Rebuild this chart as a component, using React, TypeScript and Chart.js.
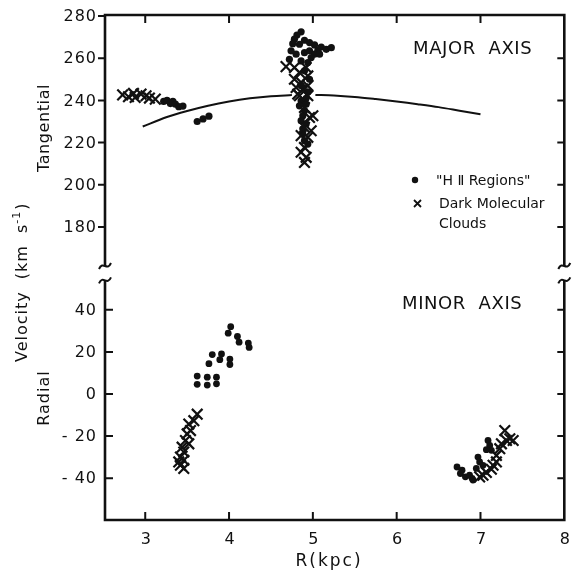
import { useEffect, useRef } from "react";
import { Chart, registerables } from "chart.js";

Chart.register(...registerables);

// ---------- axis ticks ----------
const xTicks = [3, 4, 5, 6, 7, 8];
const tangTicks = [180, 200, 220, 240, 260, 280];
const radTicks = [-40, -20, 0, 20, 40];

// ---------- Major axis (tangential velocity) ----------
const hiiMajorR = [
  3.22, 3.26, 3.3, 3.33, 3.36, 3.4, 3.45,
  3.62, 3.69, 3.76,
  4.86, 4.81, 4.78, 4.76, 4.84, 4.9, 4.96, 5.02, 5.06, 5.1, 5.16, 5.22, 4.74, 4.8, 4.72, 4.9, 4.96, 5.02, 4.98, 5.08, 4.86, 4.94,
  4.9, 4.96, 4.86, 4.94, 4.86, 4.9, 4.84, 4.92, 4.88, 4.86, 4.92, 4.88, 4.9, 4.94, 4.92, 4.88,
];
const hiiMajorT = [
  239.5, 240.0, 238.5, 239.5, 238.2, 237.0, 237.3,
  230.0, 231.2, 232.5,
  272.5, 271.0, 269.0, 266.9, 266.6, 268.5, 267.4, 266.3, 263.8, 265.3, 264.2, 265.0, 263.5, 261.9, 259.5, 262.6, 263.5, 261.9, 260.3, 261.9, 258.7, 257.9,
  254.0, 250.0, 247.0, 244.0, 239.8, 235.1, 237.4, 238.2, 232.7, 230.4, 228.8, 224.1, 220.9, 219.3, 241.0, 226.5,
];
const darkMajorR = [
  2.73, 2.8, 2.86, 2.88, 2.95, 3.01, 3.05, 3.12,
  4.68, 4.78, 4.84, 4.92, 4.78, 4.86, 4.94, 4.8, 4.88, 4.94, 4.84, 4.82, 4.94, 4.9, 4.96, 5.0, 4.9, 4.98, 4.86, 4.94, 4.9, 4.86, 4.92, 4.9,
];
const darkMajorT = [
  242.6, 241.7, 243.3, 241.4, 243.0, 242.2, 241.1, 240.6,
  256.0, 255.6, 253.2, 255.6, 250.0, 248.5, 251.6, 246.1, 245.3, 246.9, 242.2, 243.0, 242.2, 236.6, 231.9, 232.7, 227.2, 225.6, 223.3, 222.5, 217.7, 215.4, 213.0, 210.6,
];

// model rotation curve (null = gap)
const curveR = [2.97, 3.25, 3.5, 3.75, 4.0, 4.25, 4.5, 4.75, null, 5.03, 5.25, 5.5, 5.75, 6.0, 6.25, 6.5, 6.75, 7.0];
const curveT = [227.6, 232.0, 235.0, 237.5, 239.5, 241.0, 242.0, 242.5, null, 242.6, 242.3, 241.6, 240.6, 239.5, 238.2, 236.8, 235.1, 233.4];

// ---------- Minor axis (radial velocity) ----------
const hiiMinorR = [
  4.02, 3.99, 4.1, 4.12, 4.23, 4.24, 3.8, 3.76, 3.91, 3.89, 4.01, 4.01, 3.62, 3.62, 3.74, 3.74, 3.85, 3.85,
  6.72, 6.78, 6.76, 6.82, 6.87, 6.9, 6.91, 6.95, 6.97, 6.99, 7.03, 7.09, 7.11, 7.13, 7.07,
];
const hiiMinorV = [
  32.0, 28.9, 27.3, 24.6, 24.2, 22.1, 18.7, 14.4, 19.0, 16.3, 16.6, 14.0, 8.5, 4.6, 8.0, 4.2, 8.0, 4.8,
  -34.7, -36.2, -37.8, -39.4, -38.6, -40.1, -40.9, -35.4, -30.0, -32.3, -33.9, -22.1, -24.5, -26.8, -26.5,
];
const darkMinorR = [
  3.62, 3.58, 3.52, 3.54, 3.5, 3.48, 3.52, 3.44, 3.46, 3.42, 3.46, 3.42, 3.46, 3.4,
  6.99, 7.03, 7.07, 7.13, 7.15, 7.19, 7.19, 7.23, 7.25, 7.29, 7.35, 7.39, 7.31,
];
const darkMinorV = [
  -9.6, -12.7, -14.3, -17.4, -19.0, -22.1, -23.7, -25.3, -27.6, -30.0, -31.5, -33.9, -35.4, -32.3,
  -39.4, -38.6, -37.3, -35.8, -33.9, -32.3, -29.2, -26.0, -23.7, -17.4, -21.3, -22.1, -22.1,
];

const FONT = '"DejaVu Sans", sans-serif';
const INK = "#111";

const pts = (xs: (number | null)[], ys: (number | null)[]) =>
  xs.map((x, i) => ({ x: x as number, y: ys[i] as number }));

function tilde(ctx: CanvasRenderingContext2D, cx: number, cy: number) {
  ctx.beginPath();
  ctx.moveTo(cx - 6, cy + 3);
  ctx.bezierCurveTo(cx - 2, cy - 6, cx + 2, cy + 6, cx + 6, cy - 3);
  ctx.stroke();
}

const framePlugin = {
  id: "frame",
  beforeDraw(chart: any) {
    const ctx = chart.ctx;
    ctx.save();
    ctx.fillStyle = "#fff";
    ctx.fillRect(0, 0, chart.width, chart.height);
    ctx.restore();
  },
  afterDraw(chart: any) {
    const ctx: CanvasRenderingContext2D = chart.ctx;
    const a = chart.chartArea;
    const sx = chart.scales.x;
    const yT = chart.scales.yT;
    const yR = chart.scales.yR;
    const brkTop = yT.getPixelForValue(161.5);
    const brkBot = yR.getPixelForValue(54);

    ctx.save();
    ctx.strokeStyle = INK;
    ctx.fillStyle = INK;
    ctx.lineWidth = 2.6;
    ctx.lineCap = "butt";

    // frame
    ctx.beginPath();
    ctx.moveTo(a.left, brkTop);
    ctx.lineTo(a.left, a.top);
    ctx.lineTo(a.right, a.top);
    ctx.lineTo(a.right, brkTop);
    ctx.moveTo(a.left, brkBot);
    ctx.lineTo(a.left, a.bottom);
    ctx.lineTo(a.right, a.bottom);
    ctx.lineTo(a.right, brkBot);
    ctx.stroke();

    ctx.lineWidth = 2;
    tilde(ctx, a.left, brkTop);
    tilde(ctx, a.left, brkBot);
    tilde(ctx, a.right, brkTop);
    tilde(ctx, a.right, brkBot);

    // ticks
    ctx.lineWidth = 2;
    ctx.beginPath();
    xTicks.forEach((v) => {
      if (v >= 8) return;
      const px = sx.getPixelForValue(v);
      ctx.moveTo(px, a.top);
      ctx.lineTo(px, a.top + 8);
      ctx.moveTo(px, a.bottom);
      ctx.lineTo(px, a.bottom - 8);
    });
    tangTicks.forEach((v) => {
      const py = yT.getPixelForValue(v);
      ctx.moveTo(a.left - 7, py);
      ctx.lineTo(a.left, py);
      if (v < 280) {
        ctx.moveTo(a.right, py);
        ctx.lineTo(a.right - 7, py);
      }
    });
    radTicks.forEach((v) => {
      const py = yR.getPixelForValue(v);
      ctx.moveTo(a.left, py);
      ctx.lineTo(a.left + 8, py);
      ctx.moveTo(a.right, py);
      ctx.lineTo(a.right - 7, py);
    });
    ctx.stroke();

    // tick labels
    (ctx as any).letterSpacing = "1px";
    ctx.font = `16px ${FONT}`;
    ctx.textBaseline = "middle";
    ctx.textAlign = "right";
    tangTicks.forEach((v) => {
      ctx.fillText(String(v), a.left - 8, yT.getPixelForValue(v) + 1);
    });
    radTicks.forEach((v) => {
      const s = v < 0 ? "- " + Math.abs(v) : String(v);
      ctx.fillText(s, a.left - 8, yR.getPixelForValue(v) + 1);
    });
    ctx.textAlign = "center";
    xTicks.forEach((v) => {
      ctx.fillText(String(v), sx.getPixelForValue(v) + 1, a.bottom + 20);
    });

    // x title
    (ctx as any).letterSpacing = "2px";
    ctx.font = `17px ${FONT}`;
    ctx.fillText("R(kpc)", 329, 562);

    // panel labels
    (ctx as any).letterSpacing = "0.6px";
    ctx.font = `18px ${FONT}`;
    ctx.textAlign = "left";
    ctx.fillText("MAJOR  AXIS", 413, 49);
    ctx.fillText("MINOR  AXIS", 402, 304);

    // legend
    (ctx as any).letterSpacing = "0px";
    ctx.font = `14px ${FONT}`;
    ctx.beginPath();
    ctx.arc(415, 180, 3.2, 0, Math.PI * 2);
    ctx.fill();
    ctx.fillText('"H \u2161 Regions"', 436, 181);
    ctx.lineWidth = 1.8;
    ctx.beginPath();
    ctx.moveTo(414, 200);
    ctx.lineTo(421, 207);
    ctx.moveTo(421, 200);
    ctx.lineTo(414, 207);
    ctx.stroke();
    ctx.fillText("Dark Molecular", 439, 204);
    ctx.fillText("Clouds", 439, 224);

    // y titles (rotated)
    const vtext = (s: string, x: number, yc: number, font: string, ls: string) => {
      ctx.save();
      ctx.translate(x, yc);
      ctx.rotate(-Math.PI / 2);
      (ctx as any).letterSpacing = ls;
      ctx.font = font;
      ctx.textAlign = "center";
      ctx.textBaseline = "middle";
      ctx.fillText(s, 0, 0);
      ctx.restore();
    };
    vtext("Tangential", 45, 128, `16px ${FONT}`, "0.6px");
    vtext("Radial", 45, 398, `16px ${FONT}`, "1px");

    // "Velocity (km s-1)" as one rotated line
    ctx.save();
    ctx.translate(23, 362);
    ctx.rotate(-Math.PI / 2);
    ctx.textAlign = "left";
    ctx.textBaseline = "middle";
    (ctx as any).letterSpacing = "1px";
    ctx.font = `16px ${FONT}`;
    let cx = 0;
    ctx.fillText("Velocity", cx, 0);
    cx += ctx.measureText("Velocity").width + 12;
    const p1 = "(km  s";
    ctx.fillText(p1, cx, 0);
    cx += ctx.measureText(p1).width;
    ctx.font = `11px ${FONT}`;
    ctx.fillText("-1", cx, -6);
    cx += ctx.measureText("-1").width + 1;
    ctx.font = `16px ${FONT}`;
    ctx.fillText(")", cx, 0);
    ctx.restore();

    ctx.restore();
  },
};

export default function App() {
  const ref = useRef<HTMLCanvasElement | null>(null);
  useEffect(() => {
    if (!ref.current) return;
    const chart = new Chart(ref.current, {
      type: "scatter",
      data: {
        datasets: [
          {
            label: "model",
            data: pts(curveR, curveT),
            yAxisID: "yT",
            showLine: true,
            spanGaps: false,
            borderColor: INK,
            borderWidth: 2,
            pointRadius: 0,
            tension: 0.3,
          } as any,
          {
            label: "Dark Molecular Clouds (major)",
            data: pts(darkMajorR, darkMajorT),
            yAxisID: "yT",
            pointStyle: "crossRot",
            pointRadius: 7.5,
            borderColor: INK,
            pointBorderWidth: 2.2,
          },
          {
            label: "HII Regions (major)",
            data: pts(hiiMajorR, hiiMajorT),
            yAxisID: "yT",
            pointStyle: "circle",
            pointRadius: 3.6,
            backgroundColor: INK,
            borderWidth: 0,
          },
          {
            label: "Dark Molecular Clouds (minor)",
            data: pts(darkMinorR, darkMinorV),
            yAxisID: "yR",
            pointStyle: "crossRot",
            pointRadius: 7.5,
            borderColor: INK,
            pointBorderWidth: 2.2,
          },
          {
            label: "HII Regions (minor)",
            data: pts(hiiMinorR, hiiMinorV),
            yAxisID: "yR",
            pointStyle: "circle",
            pointRadius: 3.4,
            backgroundColor: INK,
            borderWidth: 0,
          },
        ],
      },
      options: {
        responsive: false,
        animation: false,
        devicePixelRatio: 1,
        layout: { padding: { left: 105, right: 6, top: 15, bottom: 55 } },
        plugins: { legend: { display: false }, tooltip: { enabled: false } },
        scales: {
          x: { type: "linear", min: 2.52, max: 8, display: false },
          yT: { type: "linear", position: "left", min: 41.1, max: 280.47, display: false },
          yR: { type: "linear", position: "left", min: -59.9, max: 180.1, display: false },
        },
      },
      plugins: [framePlugin],
    });
    return () => chart.destroy();
  }, []);
  return (
    <div style={{ position: "absolute", left: 0, top: 0, width: 574, height: 575 }}>
      <canvas ref={ref} width={574} height={575} />
    </div>
  );
}
